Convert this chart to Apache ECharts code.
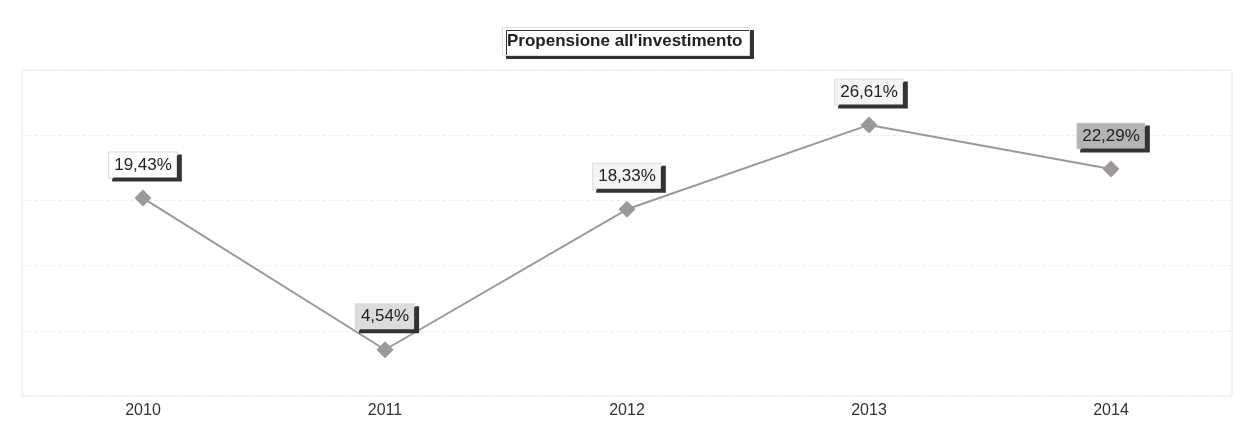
<!DOCTYPE html>
<html><head><meta charset="utf-8">
<script src="https://cdn.jsdelivr.net/npm/echarts@6/dist/echarts.min.js"></script>
<style>html,body{margin:0;padding:0;background:#fff}#c{width:1234px;height:427px}</style>
</head><body><div id="c"></div>
<script>
const categories = ['2010','2011','2012','2013','2014'];
const values = [19.43, 4.54, 18.33, 26.61, 22.29];
const labelBg = ['#ffffff','#dcdcdc','#f4f4f4','#f4f4f4','#b4b4b4'];
const titleText = "Propensione all'investimento";

const chart = echarts.init(document.getElementById('c'));
chart.setOption({
  animation: false,
  backgroundColor: '#fff',
  title: {
    text: titleText, left: 502, top: 27,
    backgroundColor: '#fff', borderColor: '#ddd', borderWidth: 1,
    padding: [6, 7, 6, 5],
    shadowColor: '#333', shadowOffsetX: 4, shadowOffsetY: 3, shadowBlur: 0,
    textStyle: { fontFamily: 'Liberation Sans, Arial', fontSize: 17, fontWeight: 'bold', color: '#222' }
  },
  grid: { left: 22, right: 2, top: 70, bottom: 31, show: true, borderColor: '#e6e6e6', borderWidth: 1 },
  xAxis: {
    type: 'category', data: categories, boundaryGap: true,
    axisLine: { show: false }, axisTick: { show: false },
    axisLabel: { fontFamily: 'Liberation Sans, Arial', fontSize: 16, color: '#333', margin: 7 }
  },
  yAxis: {
    type: 'value', min: 0, max: 32, interval: 6.4,
    axisLabel: { show: false }, axisLine: { show: false }, axisTick: { show: false },
    splitLine: { lineStyle: { color: '#efefef', type: 'dashed' } }
  },
  series: [{
    type: 'line',
    data: values.map((v, i) => ({
      value: v,
      label: { backgroundColor: labelBg[i] }
    })),
    symbol: 'diamond', symbolSize: 17,
    itemStyle: { color: '#9c9898' },
    lineStyle: { color: '#9c9898', width: 2 },
    label: {
      show: true, position: 'top', distance: 12,
      formatter: p => p.value.toFixed(2).replace('.', ',') + '%',
      fontFamily: 'Liberation Sans, Arial', fontSize: 17, color: '#222',
      padding: [4, 5, 4, 5], borderColor: '#ddd', borderWidth: 1,
      shadowColor: '#333', shadowOffsetX: 4, shadowOffsetY: 3, shadowBlur: 0
    }
  }]
});
</script></body></html>
